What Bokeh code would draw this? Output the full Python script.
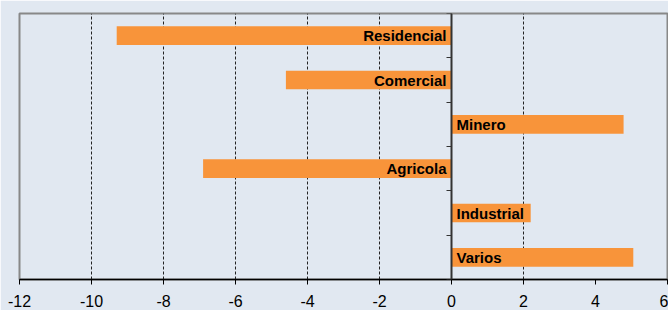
from bokeh.plotting import figure
from bokeh.models import ColumnDataSource, FixedTicker, LinearAxis, Range1d, PrintfTickFormatter
from bokeh.core.properties import value
from bokeh.embed import file_html
from bokeh.resources import INLINE

categories = ["Residencial", "Comercial", "Minero", "Agricola", "Industrial", "Varios"]
values = [-9.3, -4.6, 4.78, -6.9, 2.2, 5.05]
x_ticks = [-12, -10, -8, -6, -4, -2, 0, 2, 4, 6]

BG = "#E1E8F1"
BAR = "#F8943A"

n = len(categories)
ypos = [n - i - 0.5 for i in range(n)]

neg = {"y": [], "v": [], "c": []}
pos = {"y": [], "v": [], "c": []}
for y, v, c in zip(ypos, values, categories):
    d = neg if v < 0 else pos
    d["y"].append(y); d["v"].append(v); d["c"].append(c)

src = ColumnDataSource(dict(y=ypos, v=values, c=categories))

p = figure(width=668, height=310, frame_width=648, frame_height=266,
           x_range=Range1d(-12, 6), y_range=Range1d(0, n),
           output_backend="svg", toolbar_location=None,
           y_axis_location=None, x_axis_location="below",
           min_border_left=19, min_border_right=1, min_border_top=13, min_border_bottom=31)

p.background_fill_color = BG
p.border_fill_color = BG
p.outline_line_color = "#888888"
p.outline_line_width = 2

p.hbar(y="y", left=0, right="v", height=0.42, source=src, fill_color=BAR, line_color=None)

p.xaxis.ticker = FixedTicker(ticks=x_ticks)
p.xaxis.formatter = PrintfTickFormatter(format="%d")
p.xaxis.axis_line_color = "black"
p.xaxis.axis_line_width = 1.5
p.xaxis.major_tick_line_color = "black"
p.xaxis.major_tick_out = 5
p.xaxis.major_tick_in = 0
p.xaxis.minor_tick_line_color = None
p.xaxis.major_label_text_font = "Liberation Sans"
p.xaxis.major_label_text_font_size = "16px"
p.xaxis.major_label_text_color = "black"
p.xaxis.major_label_standoff = 10

p.xgrid.ticker = FixedTicker(ticks=x_ticks[1:-2])
p.xgrid.grid_line_color = "#222222"
p.xgrid.grid_line_dash = "3 2"
p.xgrid.grid_line_width = 1
p.ygrid.grid_line_color = None

yax = LinearAxis(fixed_location=0, ticker=FixedTicker(ticks=list(range(n + 1))))
yax.axis_line_color = "#333333"
yax.axis_line_width = 2
yax.major_tick_line_color = "#333333"
yax.major_tick_out = 5
yax.major_tick_in = 0
yax.minor_tick_line_color = None
yax.major_label_overrides = {i: "" for i in range(n + 1)}
yax.major_label_standoff = 0
p.add_layout(yax, "left")

p.text(x=0, y=neg["y"], text=neg["c"], x_offset=-5, text_align="right", text_baseline="middle",
       text_font=value("Liberation Sans"), text_font_style="bold", text_font_size="15px", text_color="black")
p.text(x=0, y=pos["y"], text=pos["c"], x_offset=5, text_align="left", text_baseline="middle",
       text_font=value("Liberation Sans"), text_font_style="bold", text_font_size="15px", text_color="black")

open("out.html", "w").write(file_html(p, INLINE))
